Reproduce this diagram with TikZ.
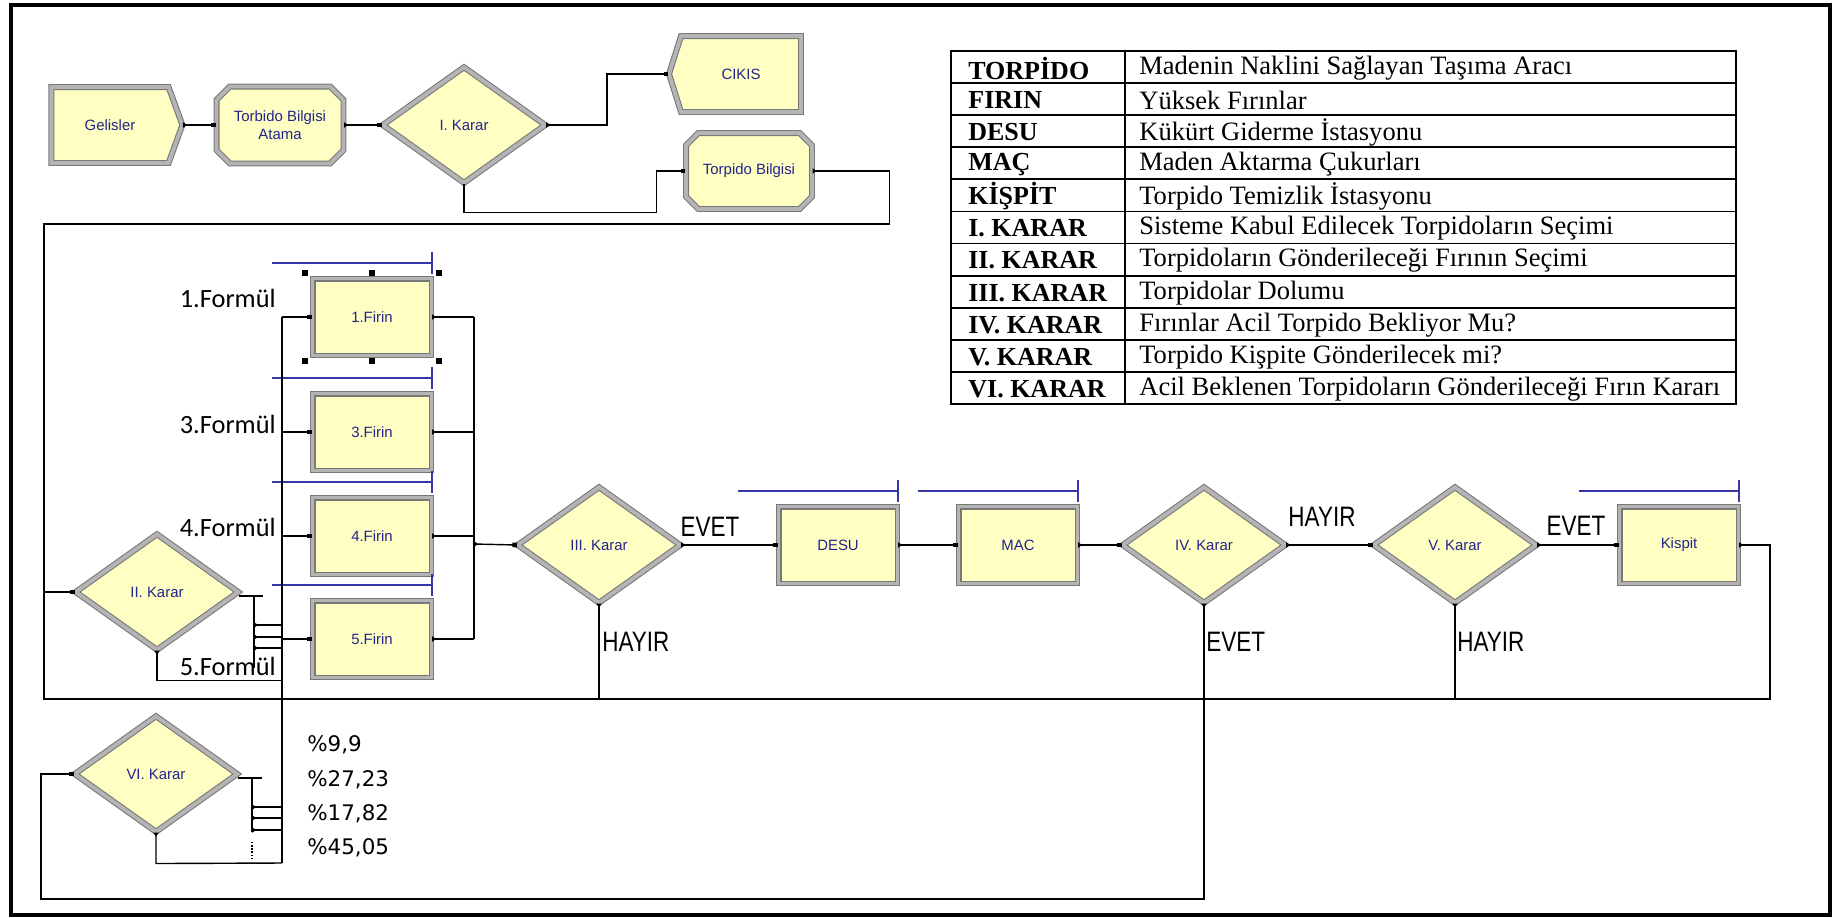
\documentclass[tikz,border=0pt]{standalone}
\usepackage{fontspec}
\setmainfont{Liberation Serif}
\newfontfamily\arenafont{Liberation Sans}
\newfontfamily\narrowfont[FakeStretch=0.8]{Liberation Sans}
\newfontfamily\formulfont{Carlito}
\newfontfamily\pctfont{DejaVu Sans}
\usetikzlibrary{positioning,arrows.meta,shapes.geometric,shapes.symbols,shapes.misc}
\definecolor{arenayellow}{RGB}{255,255,196}
\definecolor{framedark}{RGB}{120,120,120}
\definecolor{framelight}{RGB}{180,180,180}
\definecolor{arenablue}{RGB}{35,35,140}
\definecolor{queueblue}{RGB}{55,55,165}

\tikzset{
  module/.style={draw=framedark,line width=0.6pt,double=framelight,double distance=2.2pt,
    fill=arenayellow,text=arenablue,font=\arenafont\fontsize{8.5}{10}\selectfont,
    inner sep=0pt,align=center},
  process/.style={module,rectangle,minimum width=2.38cm,minimum height=1.54cm},
  assign/.style={module,chamfered rectangle,chamfered rectangle xsep=0.16cm,
    minimum width=2.52cm,minimum height=1.52cm},
  decide/.style={module,diamond,minimum width=3.26cm,minimum height=2.32cm},
  create/.style={module,signal,signal to=east,signal pointer angle=140,
    minimum width=2.62cm,minimum height=1.52cm},
  dispose/.style={module,signal,signal to=west,signal pointer angle=145,
    minimum width=2.64cm,minimum height=1.52cm},
  link/.style={line width=0.8pt},
  flow/.style={link,{Triangle[length=2.4pt,width=3pt,reversed]}-{Square[length=2.6pt,width=2.6pt]}},
  rflow/.style={link,{Square[length=2.6pt,width=2.6pt]}-},
  exitline/.style={link,{Triangle[length=2.4pt,width=3pt,reversed]}-},
  queue/.style={queueblue,line width=0.9pt},
  handle/.style={fill=black,minimum size=3pt,inner sep=0pt},
  ans/.style={font=\narrowfont\fontsize{16}{18}\selectfont,inner sep=0pt},
  formul/.style={font=\formulfont\fontsize{15}{17}\selectfont,inner sep=0pt,anchor=east},
  pct/.style={font=\pctfont\fontsize{12.2}{14}\selectfont,inner sep=0pt,anchor=west},
  tabkey/.style={font=\bfseries\fontsize{14.8}{17}\selectfont,inner sep=0pt,anchor=west},
  tabval/.style={font=\fontsize{15.1}{17}\selectfont,inner sep=0pt,anchor=west}
}

\begin{document}
\begin{tikzpicture}[x=0.02cm,y=-0.02cm]
\useasboundingbox (0,0) rectangle (1832,917);
\draw[line width=0.08cm] (11,5) rectangle (1830,915);

% giris ve I. karar
\node[create] (gel) at (110,125) {Gelisler};
\node[assign,minimum width=2.54cm,minimum height=1.54cm] (tba) at (280,125) {Torbido Bilgisi\\Atama};
\node[decide] (k1) at (464,125) {I. Karar};
\node[dispose] (cikis) at (741,74) {CIKIS};
\node[assign] (tb) at (749,171) {Torpido Bilgisi};

\draw[flow] (gel.east) -- (tba.west);
\draw[flow] (tba.east) -- (k1.west);
\draw[flow] (k1.east) -- ++(61,0) |- (cikis.west);
\draw[rflow] (tb.west) -- ++(-29,0) |- ([yshift=-0.58cm]k1.south) -- (k1.south);

% firinlar
\node[decide] (k2) at (157,592) {II. Karar};
\node[process] (f1) at (372,317) {1.Firin};
\node[process] (f3) at (372,432) {3.Firin};
\node[process] (f4) at (372,536) {4.Firin};
\node[process] (f5) at (372,639) {5.Firin};

\coordinate (loopTL) at (44,224);
\coordinate (loopML) at (44,699);
\coordinate (loopBL) at (41,899);
\draw[flow] (tb.east) -- ++(77,0) |- (loopTL) |- (k2.west);

\node[formul] (l1) at (276,298) {1.Formül};
\node[formul] (l3) at (276,424) {3.Formül};
\node[formul] (l4) at (276,527) {4.Formül};
\node[formul] (l5) at (276,666) {5.Formül};

\foreach \f in {f1,f3,f4,f5}
  \draw[queue] ([xshift=-3.2cm,yshift=0.3cm]\f.north east) -- ([yshift=0.3cm]\f.north east)
    ++(0,-11) -- ++(0,22);
\foreach \dx/\hx in {-67/l,0/m,67/r}
  \foreach \dy/\hy in {-44/t,44/b}
    \node[handle] (h\hx\hy) at ([shift={(\dx,\dy)}]f1.center) {};

\coordinate (busL) at (282,317);
\coordinate (busB) at (282,863);
\coordinate (busR) at (474,544);
\draw[link] (busL) -- (busB);
\foreach \f in {f1,f3,f4,f5} {
  \draw[rflow] (\f.west) -- (\f.west -| busL);
  \draw[exitline] (\f.east) -- (\f.east -| busR);
}
\draw[link] (f1.east -| busR) -- (f5.east -| busR);

% II. karar cikislari
\coordinate (k2port) at (254,596);
\draw[link] (k2.east) ++(0,4) -- ++(24,0);
\draw[link] (k2port) -- ++(0,72);
\foreach \dy in {29,41,52}
  \draw[exitline] ([yshift=-\dy*0.02cm]k2port) -- ++(28,0);
\draw[exitline] (k2.south) -- ++(0,30) -- ++(125,0);

% ana hat
\node[decide] (k3) at (599,545) {III. Karar};
\node[process] (desu) at (838,545) {DESU};
\node[process] (mac) at (1018,545) {MAC};
\node[decide] (k4) at (1204,545) {IV. Karar};
\node[decide] (k5) at (1455,545) {V. Karar};
\node[process] (kispit) at (1679,545) {Kispit};

\foreach \f in {desu,mac,kispit}
  \draw[queue] ([xshift=-3.2cm,yshift=0.3cm]\f.north east) -- ([yshift=0.3cm]\f.north east)
    ++(0,-11) -- ++(0,22);

\draw[flow] (busR) -- (k3.west);
\draw[flow] (k3.east) -- (desu.west);
\draw[flow] (desu.east) -- (mac.west);
\draw[flow] (mac.east) -- (k4.west);
\draw[flow] (k4.east) -- (k5.west);
\draw[flow] (k5.east) -- (kispit.west);
\draw[flow] (kispit.east) -- ++(31,0) |- (loopML) |- (k2.west);
\draw[exitline] (k3.south) -- (k3.south |- loopML);
\draw[exitline] (k5.south) -- (k5.south |- loopML);

\node[ans] (e3) at (710,527) {EVET};
\node[ans,anchor=west] (h3) at (602,642) {HAYIR};
\node[ans] (h4) at (1322,517) {HAYIR};
\node[ans,anchor=west] (e4) at (1206,642) {EVET};
\node[ans,anchor=west] (h5) at (1457,642) {HAYIR};
\node[ans] (e5) at (1576,526) {EVET};

% VI. karar
\node[decide] (k6) at (156,774) {VI. Karar};
\draw[flow] (k4.south) |- (loopBL) |- (k6.west);
\coordinate (k6port) at (252,778);
\draw[link] (k6.east) ++(0,4) -- ++(24,0);
\draw[link] (k6port) -- ++(0,54);
\foreach \dy in {29,40,52}
  \draw[exitline] ([yshift=-\dy*0.02cm]k6port) -- ++(30,0);
\draw[link,densely dotted] ([yshift=-1.28cm]k6port) -- ++(0,18);
\draw[exitline] (k6.south) -- ++(0,31) -- (busB);

\node[pct] (p1) at (307,745) {\%9,9};
\node[pct] (p2) at (307,780) {\%27,23};
\node[pct] (p3) at (307,814) {\%17,82};
\node[pct] (p4) at (307,848) {\%45,05};

% tablo
\draw[line width=1pt] (951,51) rectangle (1736,404);
\draw[line width=1pt] (1125,51) -- (1125,404);
\foreach \r in {1,...,10}
  \draw[line width=1pt] (951,{51+\r*32.09}) -- (1736,{51+\r*32.09});
\foreach \k/\v [count=\i] in {TORPİDO/Madenin Naklini Sağlayan Taşıma Aracı,
    FIRIN/Yüksek Fırınlar, DESU/Kükürt Giderme İstasyonu, MAÇ/Maden Aktarma Çukurları,
    KİŞPİT/Torpido Temizlik İstasyonu, I. KARAR/Sisteme Kabul Edilecek Torpidoların Seçimi,
    II. KARAR/Torpidoların Gönderileceği Fırının Seçimi, III. KARAR/Torpidolar Dolumu,
    IV. KARAR/Fırınlar Acil Torpido Bekliyor Mu?, V. KARAR/Torpido Kişpite Gönderilecek mi?,
    VI. KARAR/Acil Beklenen Torpidoların Gönderileceği Fırın Kararı} {
  \node[tabkey] (key\i) at (968,{52+(\i-0.5)*32.09}) {\k};
  \node[tabval] (val\i) at (1139,{52+(\i-0.5)*32.09}) {\v};
}
\end{tikzpicture}
\end{document}
